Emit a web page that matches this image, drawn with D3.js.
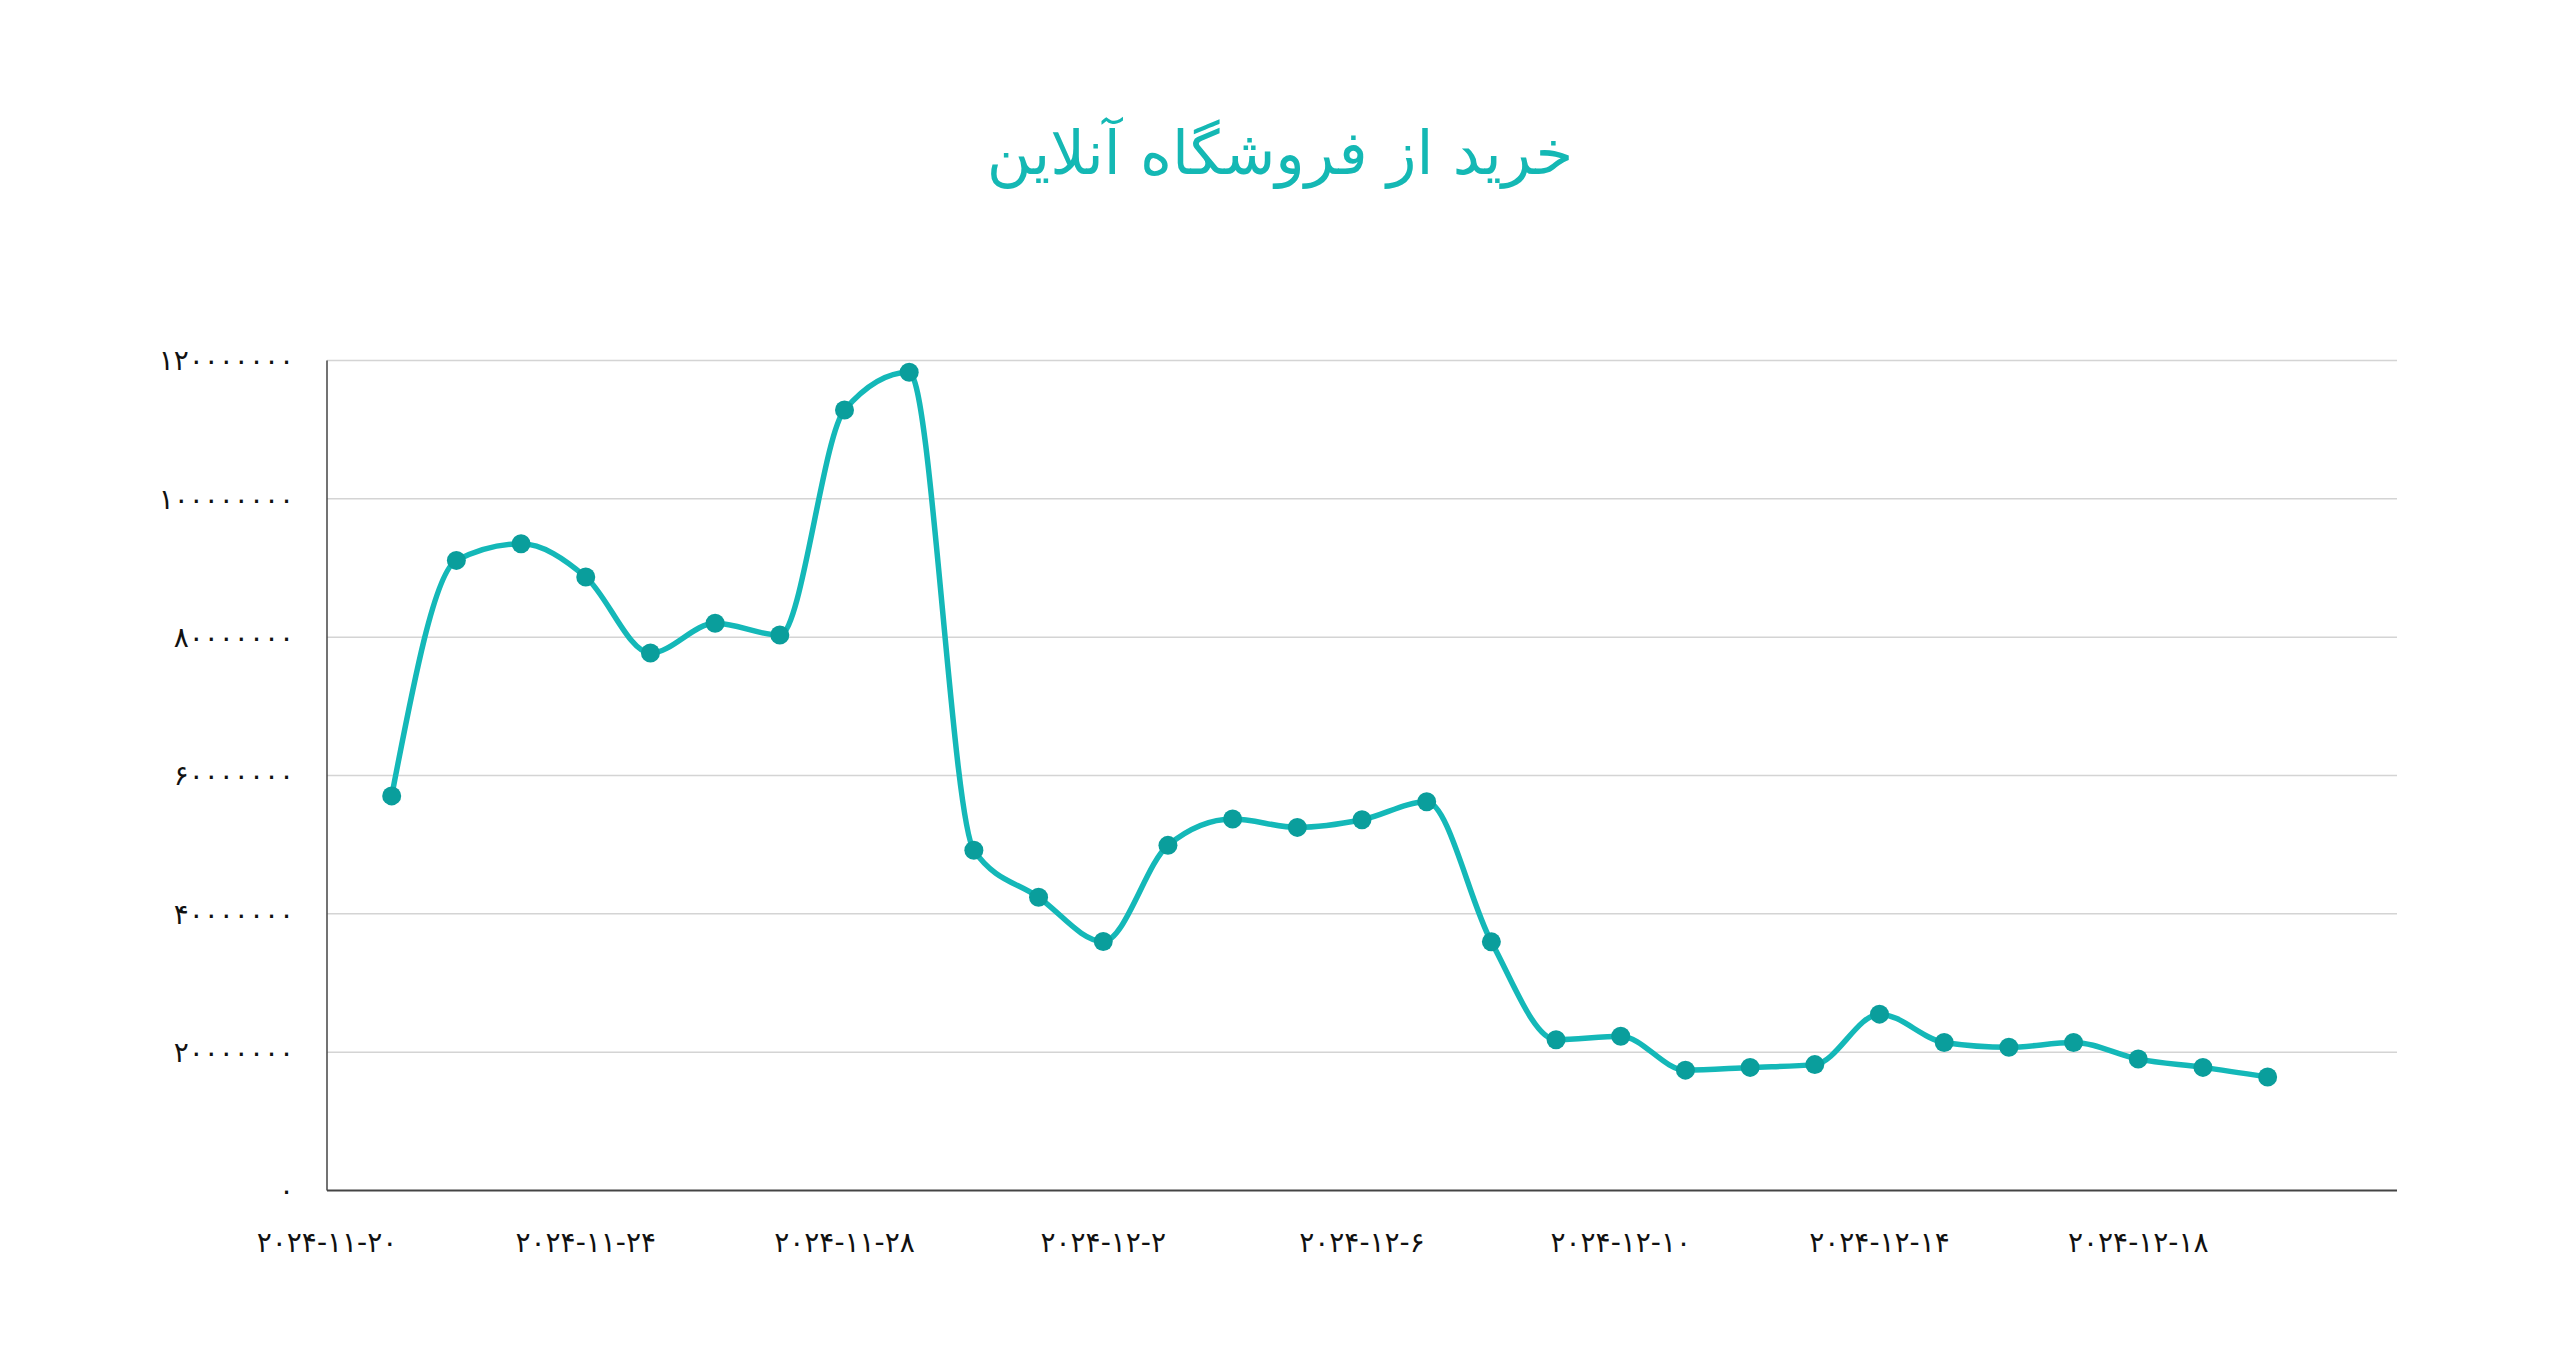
<!DOCTYPE html>
<html lang="fa">
<head>
    <meta charset="utf-8">
    <title>خرید از فروشگاه آنلاین</title>
    <script src="https://d3js.org/d3.v7.min.js"></script>
    <style>
        body { margin: 0; background: #fff; }
        .grid line { stroke: #d4d4d4; stroke-width: 1.5; }
        .tick-label { font-family: "DejaVu Sans", sans-serif; font-size: 28px; fill: #111; }
        .title { font-family: "DejaVu Sans", sans-serif; font-size: 61px; fill: #14b8b4; }
    </style>
</head>
<body>
<script>
    // data
    var dates = ["2024-11-21", "2024-11-22", "2024-11-23", "2024-11-24", "2024-11-25",
        "2024-11-26", "2024-11-27", "2024-11-28", "2024-11-29", "2024-11-30",
        "2024-12-01", "2024-12-02", "2024-12-03", "2024-12-04", "2024-12-05",
        "2024-12-06", "2024-12-07", "2024-12-08", "2024-12-09", "2024-12-10",
        "2024-12-11", "2024-12-12", "2024-12-13", "2024-12-14", "2024-12-15",
        "2024-12-16", "2024-12-17", "2024-12-18", "2024-12-19", "2024-12-20"];
    var sales = [57050000, 91100000, 93500000, 88700000, 77700000,
        82000000, 80300000, 112850000, 118300000, 49200000,
        42400000, 36000000, 49900000, 53700000, 52500000,
        53600000, 56200000, 35950000, 21800000, 22300000,
        17400000, 17800000, 18200000, 25500000, 21400000,
        20700000, 21400000, 19000000, 17800000, 16400000];
    var yTicks = [0, 20000000, 40000000, 60000000, 80000000, 100000000, 120000000];
    var xTicks = ["2024-11-20", "2024-11-24", "2024-11-28", "2024-12-02", "2024-12-06",
        "2024-12-10", "2024-12-14", "2024-12-18"];
    var xDomain = ["2024-11-20", "2024-12-22"];
    var title = "خرید از فروشگاه آنلاین";

    var width = 2560, height = 1353;
    var margin = {top: 360.5, right: 163, bottom: 162.5, left: 327};

    var parse = d3.utcParse("%Y-%m-%d");
    var faDigits = "۰۱۲۳۴۵۶۷۸۹";
    function toFa(s) {
        return String(s).replace(/[0-9]/g, function(d) { return faDigits[+d]; });
    }

    var data = dates.map(function(d, i) { return {date: parse(d), value: sales[i]}; });

    var x = d3.scaleUtc()
        .domain(xDomain.map(parse))
        .range([margin.left, width - margin.right]);
    var y = d3.scaleLinear()
        .domain([0, 120000000])
        .range([height - margin.bottom, margin.top]);

    var svg = d3.select("body").append("svg")
        .attr("width", width)
        .attr("height", height);

    svg.append("text")
        .attr("class", "title")
        .attr("x", width / 2)
        .attr("y", 174)
        .attr("text-anchor", "middle")
        .attr("direction", "rtl")
        .text(title);

    // horizontal grid lines
    svg.append("g")
        .attr("class", "grid")
        .selectAll("line")
        .data(yTicks.slice(1))
        .join("line")
        .attr("x1", margin.left)
        .attr("x2", width - margin.right)
        .attr("y1", d => y(d))
        .attr("y2", d => y(d));

    // y labels
    svg.append("g")
        .selectAll("text")
        .data(yTicks)
        .join("text")
        .attr("class", "tick-label")
        .attr("x", margin.left - 33)
        .attr("y", d => y(d))
        .attr("dy", "0.35em")
        .attr("text-anchor", "end")
        .text(d => toFa(d));

    // x labels
    svg.append("g")
        .selectAll("text")
        .data(xTicks)
        .join("text")
        .attr("class", "tick-label")
        .attr("x", d => x(parse(d)))
        .attr("y", 1242)
        .attr("dy", "0.35em")
        .attr("text-anchor", "middle")
        .style("direction", "ltr")
        .style("unicode-bidi", "bidi-override")
        .text(d => toFa(d.split("-").map(Number).join("-")));

    // axis lines
    svg.append("line")
        .attr("x1", margin.left).attr("x2", margin.left)
        .attr("y1", margin.top).attr("y2", height - margin.bottom)
        .attr("stroke", "#444").attr("stroke-width", 1.5);
    svg.append("line")
        .attr("x1", margin.left).attr("x2", width - margin.right)
        .attr("y1", height - margin.bottom).attr("y2", height - margin.bottom)
        .attr("stroke", "#444").attr("stroke-width", 2);

    var line = d3.line()
        .x(d => x(d.date))
        .y(d => y(d.value))
        .curve(d3.curveMonotoneX);

    svg.append("path")
        .datum(data)
        .attr("d", line)
        .attr("fill", "none")
        .attr("stroke", "#14b8b8")
        .attr("stroke-width", 5.5);

    svg.append("g")
        .selectAll("circle")
        .data(data)
        .join("circle")
        .attr("cx", d => x(d.date))
        .attr("cy", d => y(d.value))
        .attr("r", 9.5)
        .attr("fill", "#0a9e9c");
</script>
</body>
</html>
